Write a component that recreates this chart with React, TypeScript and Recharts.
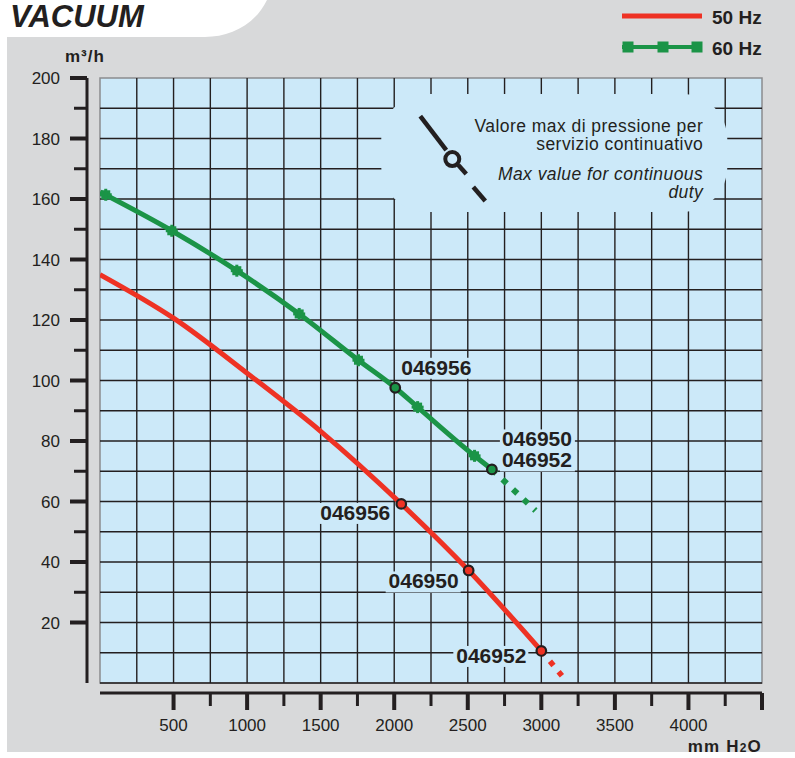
import React from "react";
import {
  ComposedChart,
  Line,
  Scatter,
  XAxis,
  YAxis,
  ReferenceArea,
  ReferenceLine,
} from "recharts";

// ---- data ----
const pressureGrid = [0, 250, 500, 750, 1000, 1250, 1500, 1750, 2000, 2250, 2500, 2750, 3000, 3250, 3500, 3750, 4000, 4250, 4500];
const pressureTicks = [500, 750, 1000, 1250, 1500, 1750, 2000, 2250, 2500, 2750, 3000, 3250, 3500, 3750, 4000, 4250, 4500];
const flowGrid = [0, 10, 20, 30, 40, 50, 60, 70, 80, 90, 100, 110, 120, 130, 140, 150, 160, 170, 180, 190, 200];
const flowTicks = [20, 30, 40, 50, 60, 70, 80, 90, 100, 110, 120, 130, 140, 150, 160, 170, 180, 190, 200];

const curve50 = [
  { x: 0, y: 135 },
  { x: 500, y: 120.6 },
  { x: 1000, y: 102.4 },
  { x: 1500, y: 83.2 },
  { x: 2048, y: 59.2 },
  { x: 2506, y: 37.2 },
  { x: 3000, y: 10.6 },
];
const curve50Over = [
  { x: 3000, y: 10.6 },
  { x: 3140, y: 2.4 },
];

const curve60 = [
  { x: 0, y: 162.3 },
  { x: 488, y: 149.5 },
  { x: 930, y: 136.3 },
  { x: 1354, y: 122 },
  { x: 1757, y: 106.7 },
  { x: 2007, y: 97.6 },
  { x: 2159, y: 91.2 },
  { x: 2546, y: 75.1 },
  { x: 2664, y: 70.6 },
];
const curve60Over = [
  { x: 2664, y: 70.6 },
  { x: 2960, y: 57 },
];
const markers60 = [
  { x: 39, y: 161.4 },
  { x: 488, y: 149.5 },
  { x: 930, y: 136.3 },
  { x: 1354, y: 122 },
  { x: 1757, y: 106.7 },
  { x: 2159, y: 91.2 },
  { x: 2546, y: 75.1 },
];

const models50 = [
  { x: 2048, y: 59.2, codes: ["046956"] },
  { x: 2506, y: 37.2, codes: ["046950"] },
  { x: 3000, y: 10.6, codes: ["046952"] },
];
const models60 = [
  { x: 2007, y: 97.6, codes: ["046956"] },
  { x: 2664, y: 70.6, codes: ["046950", "046952"] },
];

const seriesNames = ["50 Hz", "60 Hz"];
const noteLines = ["Valore max di pressione per", "servizio continuativo"];
const noteLinesEn = ["Max value for continuous", "duty"];
// top-left corner of the note box, in chart units
const noteAnchor = [{ x: 1912, y: 194.7 }];

// ---- styles ----
const W = 795;
const H = 758;
const ink = "#231f20";
const red = "#ee3224";
const green = "#1b9447";
const plotBg = "#cce9f9";
const panel = "#d8d9da";
const font = "'Liberation Sans', Arial, Helvetica, sans-serif";

// label offsets relative to the marker centre
const labelPlace50 = [
  { dx: -11, dy: 16, anchor: "end" },
  { dx: -10, dy: 18, anchor: "end" },
  { dx: -15, dy: 12, anchor: "end" },
];
const labelPlace60 = [
  { dx: 6, dy: -13, anchor: "start" },
  { dx: 10, dy: -23, anchor: "start" },
];

function XTick(props: any) {
  const { x, y, payload } = props;
  const v = payload.value;
  const major = v % 500 === 0;
  return (
    <g>
      <line x1={x} x2={x} y1={y} y2={y + (major ? 17 : 13)} stroke={ink} strokeWidth={major ? 4 : 3} />
      {major && v < 4500 && (
        <text x={x} y={y + 38} textAnchor="middle" fontSize={17} fill={ink} fontFamily={font}>
          {v}
        </text>
      )}
    </g>
  );
}

function YTick(props: any) {
  const { x, y, payload } = props;
  const v = payload.value;
  const major = v % 20 === 0;
  return (
    <g>
      <line x1={x - (major ? 17 : 13)} x2={x} y1={y} y2={y} stroke={ink} strokeWidth={major ? 4 : 3} />
      {major && (
        <text x={x - 27} y={y} dy="0.36em" textAnchor="end" fontSize={17} fill={ink} fontFamily={font}>
          {v}
        </text>
      )}
    </g>
  );
}

function GreenMarker(props: any) {
  const { cx, cy } = props;
  if (cx == null || cy == null) return null;
  return (
    <g fill={green}>
      <rect x={cx - 4.5} y={cy - 4.5} width={9} height={9} />
      <rect x={cx - 6} y={cy - 1.5} width={12} height={3} />
      <rect x={cx - 1.5} y={cy - 6} width={3} height={12} />
    </g>
  );
}

function makeModelDot(fill: string, places: { dx: number; dy: number; anchor: string }[]) {
  return function ModelDot(props: any) {
    const { cx, cy, payload, index } = props;
    if (cx == null || cy == null) return null;
    const p = places[index] || places[0];
    const codes: string[] = payload.codes;
    const lh = 21;
    const tw = 72;
    const bx = p.anchor === "end" ? cx + p.dx - tw - 1 : cx + p.dx - 2;
    const by = cy + p.dy - 17;
    return (
      <g>
        <rect x={bx} y={by} width={tw + 3} height={lh * (codes.length - 1) + 21} fill={plotBg} />
        {codes.map((c, i) => (
          <text
            key={c}
            x={cx + p.dx}
            y={cy + p.dy + i * lh}
            textAnchor={p.anchor as any}
            fontSize={21}
            fontWeight={700}
            fill={ink}
            fontFamily={font}
          >
            {c}
          </text>
        ))}
        <circle cx={cx} cy={cy} r={4.8} fill={fill} stroke={ink} strokeWidth={2.2} />
      </g>
    );
  };
}

function NoteBox(props: any) {
  const { cx, cy } = props;
  if (cx == null || cy == null) return null;
  const x = cx;
  const y = cy;
  const width = 346;
  const height = 118;
  const right = x + width - 24;
  const ts = { fontSize: 17.5, letterSpacing: 0.45 } as const;
  return (
    <g fontFamily={font} fill={ink}>
      <rect x={x} y={y} width={width} height={height} rx={45} ry={45} fill={plotBg} />
      <line x1={x + 39} y1={y + 22} x2={x + 65} y2={y + 56} stroke={ink} strokeWidth={4.5} />
      <line x1={x + 77} y1={y + 71} x2={x + 85} y2={y + 80} stroke={ink} strokeWidth={4.5} />
      <circle cx={x + 71} cy={y + 65} r={7} fill={plotBg} stroke={ink} strokeWidth={4} />
      <line x1={x + 92} y1={y + 93} x2={x + 104} y2={y + 107} stroke={ink} strokeWidth={4.5} />
      <text x={right} y={y + 37.5} textAnchor="end" {...ts}>{noteLines[0]}</text>
      <text x={right} y={y + 56} textAnchor="end" {...ts}>{noteLines[1]}</text>
      <text x={right} y={y + 85.5} textAnchor="end" fontStyle="italic" {...ts}>{noteLinesEn[0]}</text>
      <text x={right} y={y + 104} textAnchor="end" fontStyle="italic" {...ts}>{noteLinesEn[1]}</text>
    </g>
  );
}

function Backdrop() {
  return (
    <svg width={W} height={H} style={{ position: "absolute", left: 0, top: 0 }}>
      <rect x={0} y={0} width={W} height={H} fill="#ffffff" />
      <path d="M7,37 L205,37 C230,37 255,25 267,0 L795,0 L795,752 L7,752 Z" fill={panel} />
      <text x={10} y={27} fontSize={31} fontWeight={700} fontStyle="italic" fill={ink} fontFamily={font}>
        VACUUM
      </text>
      <text x={65} y={62} fontSize={17} fontWeight={700} fill={ink} fontFamily={font} letterSpacing={1}>
        m³/h
      </text>
      <text x={762} y={752} textAnchor="end" fontSize={17} fontWeight={700} fill={ink} fontFamily={font} letterSpacing={1.2}>
        mm H<tspan fontSize={12}>2</tspan>O
      </text>
      {/* legend */}
      <line x1={622} x2={702} y1={16} y2={16} stroke={red} strokeWidth={5} />
      <text x={712} y={17} dy="0.36em" fontSize={19} fontWeight={700} fill={ink} fontFamily={font}>
        {seriesNames[0]}
      </text>
      <line x1={622} x2={702} y1={47} y2={47} stroke={green} strokeWidth={4} />
      {[628, 663, 697].map((mx) => (
        <rect key={mx} x={mx - 5.5} y={41.5} width={11} height={11} fill={green} />
      ))}
      <text x={712} y={48} dy="0.36em" fontSize={19} fontWeight={700} fill={ink} fontFamily={font}>
        {seriesNames[1]}
      </text>
    </svg>
  );
}

export default function App() {
  return (
    <div style={{ position: "absolute", left: 0, top: 0, width: W, height: H }}>
      <Backdrop />
      <div style={{ position: "absolute", left: 0, top: 0 }}>
        <ComposedChart width={W} height={H} margin={{ top: 78, right: 33, bottom: 25, left: 27 }}>
          {/* spacer axes push the drawn axes away from the plot */}
          <XAxis
            xAxisId={0}
            dataKey="x"
            type="number"
            domain={[0, 4500]}
            allowDataOverflow
            ticks={pressureGrid}
            height={10}
            axisLine={false}
            tickLine={false}
            tick={false}
          />
          <XAxis
            xAxisId={1}
            dataKey="x"
            type="number"
            domain={[0, 4500]}
            allowDataOverflow
            ticks={pressureTicks}
            interval={0}
            height={40}
            axisLine={{ stroke: ink, strokeWidth: 3 }}
            tickLine={false}
            tickSize={0}
            tickMargin={0}
            tick={<XTick />}
          />
          <YAxis
            yAxisId={0}
            dataKey="y"
            type="number"
            domain={[0, 200]}
            allowDataOverflow
            ticks={flowGrid}
            width={13}
            axisLine={false}
            tickLine={false}
            tick={false}
          />
          <YAxis
            yAxisId={1}
            dataKey="y"
            type="number"
            domain={[0, 200]}
            allowDataOverflow
            ticks={flowTicks}
            interval={0}
            width={60}
            axisLine={{ stroke: ink, strokeWidth: 3 }}
            tickLine={false}
            tickSize={0}
            tickMargin={0}
            tick={<YTick />}
          />
          <ReferenceArea x1={0} x2={4500} y1={0} y2={200} fill={plotBg} fillOpacity={1} stroke="#8a8c8e" strokeWidth={1.5} />
          {pressureGrid.slice(1, -1).map((v) => (
            <ReferenceLine key={"vx" + v} x={v} stroke={ink} strokeWidth={1.4} />
          ))}
          {flowGrid.slice(1, -1).map((v) => (
            <ReferenceLine key={"hy" + v} y={v} stroke={ink} strokeWidth={1.4} />
          ))}
          <ReferenceLine y={0} stroke={ink} strokeWidth={1.6} />
          <Scatter data={noteAnchor} dataKey="y" shape={<NoteBox />} isAnimationActive={false} />
          <Line data={curve50} dataKey="y" type="monotone" stroke={red} strokeWidth={5} dot={false} isAnimationActive={false} />
          <Line
            data={curve50Over}
            dataKey="y"
            type="linear"
            stroke={red}
            strokeWidth={5.5}
            strokeDasharray="5.5 8"
            dot={false}
            isAnimationActive={false}
          />
          <Line data={curve60} dataKey="y" type="monotone" stroke={green} strokeWidth={5} dot={false} isAnimationActive={false} />
          <Line
            data={curve60Over}
            dataKey="y"
            type="linear"
            stroke={green}
            strokeWidth={6}
            strokeDasharray="6 8.5"
            dot={false}
            isAnimationActive={false}
          />
          <Scatter data={markers60} dataKey="y" shape={<GreenMarker />} isAnimationActive={false} />
          <Scatter data={models60} dataKey="y" shape={makeModelDot(green, labelPlace60)} isAnimationActive={false} />
          <Scatter data={models50} dataKey="y" shape={makeModelDot(red, labelPlace50)} isAnimationActive={false} />
        </ComposedChart>
      </div>
    </div>
  );
}
